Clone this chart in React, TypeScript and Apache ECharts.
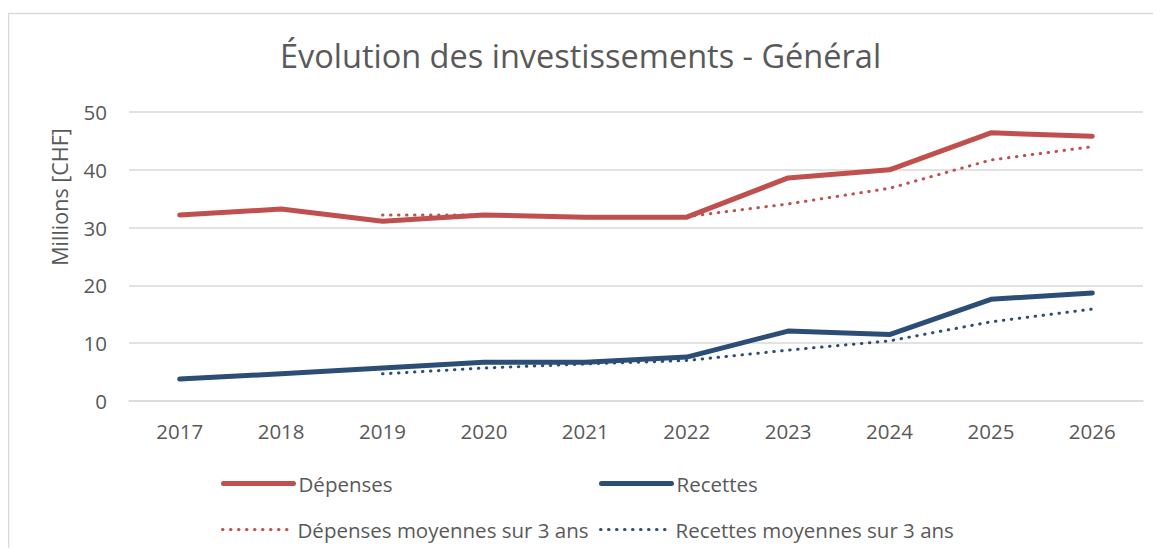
import React, { useEffect, useRef } from "react";
import * as echarts from "echarts";

const years = ["2017", "2018", "2019", "2020", "2021", "2022", "2023", "2024", "2025", "2026"];
const depenses = [32.2, 33.2, 31.1, 32.2, 31.8, 31.8, 38.6, 40.0, 46.4, 45.8];
const recettes = [3.8, 4.7, 5.7, 6.7, 6.7, 7.6, 12.1, 11.5, 17.6, 18.7];
const depensesMoy = [null, null, 32.2, 32.2, 31.7, 31.9, 34.1, 36.8, 41.7, 44.0];
const recettesMoy = [null, null, 4.7, 5.7, 6.4, 7.0, 8.8, 10.4, 13.7, 15.9];

const RED = "#C0504D";
const BLUE = "#2C4D75";
const TXT = "#595959";
const FONT = "'Open Sans', sans-serif";

export default function App() {
  const ref = useRef<HTMLDivElement>(null);
  useEffect(() => {
    if (!ref.current) return;
    const chart = echarts.init(ref.current, undefined, { renderer: "svg" });
    const dottedType = [0.5, 7.5];
    const legendBase = {
      orient: "horizontal",
      itemWidth: 70,
      itemHeight: 12,
      itemGap: 0,
      padding: 0,
      selectedMode: false,
      itemStyle: { opacity: 0 },
      textStyle: { color: TXT, fontSize: 20.5, fontFamily: FONT, padding: [0, 0, 0, 0] },
    };
    const solidLegend = { ...legendBase, lineStyle: { width: 5, cap: "round" } };
    const dotLegend = { ...legendBase, lineStyle: { width: 3, type: dottedType, cap: "round" } };
    const dotted = { width: 3, type: dottedType, cap: "round" };
    chart.setOption({
      animation: false,
      backgroundColor: "#ffffff",
      title: {
        text: "Évolution des investissements - Général",
        left: "center",
        top: 39,
        padding: 0,
        textStyle: { color: TXT, fontSize: 32.5, fontWeight: "normal", fontFamily: FONT },
      },
      graphic: [
        {
          type: "rect",
          shape: { x: 8.5, y: 13.5, width: 1200, height: 600 },
          style: { fill: "none", stroke: "#D9D9D9", lineWidth: 1.5 },
          silent: true,
        },
        {
          type: "text",
          x: 59,
          y: 197,
          rotation: Math.PI / 2,
          style: {
            text: "Millions [CHF]",
            fill: TXT,
            fontSize: 21.5,
            fontFamily: FONT,
            align: "center",
            verticalAlign: "middle",
          },
        },
      ],
      legend: [
        { ...solidLegend, data: ["Dépenses"], left: 221, top: 473 },
        { ...solidLegend, data: ["Recettes"], left: 599, top: 473 },
        { ...dotLegend, data: ["Dépenses moyennes sur 3 ans"], left: 221, top: 519 },
        { ...dotLegend, data: ["Recettes moyennes sur 3 ans"], left: 599, top: 519 },
      ],
      grid: { left: 129, right: 18, top: 112, bottom: 155 },
      xAxis: {
        type: "category",
        data: years,
        boundaryGap: true,
        axisLine: { show: true, lineStyle: { color: "#D9D9D9", width: 1.5 } },
        axisTick: { show: false },
        axisLabel: { color: TXT, fontSize: 20.5, fontFamily: FONT, margin: 19 },
      },
      yAxis: {
        type: "value",
        min: 0,
        max: 50,
        interval: 10,
        axisLine: { show: false },
        axisTick: { show: false },
        axisLabel: { color: TXT, fontSize: 20.5, fontFamily: FONT, margin: 22 },
        splitLine: { lineStyle: { color: "#D9D9D9", width: 1.5 } },
      },
      series: [
        {
          name: "Dépenses",
          type: "line",
          data: depenses,
          symbol: "none",
          lineStyle: { color: RED, width: 5, cap: "round", join: "round" },
          itemStyle: { color: RED },
          z: 3,
        },
        {
          name: "Recettes",
          type: "line",
          data: recettes,
          symbol: "none",
          lineStyle: { color: BLUE, width: 5, cap: "round", join: "round" },
          itemStyle: { color: BLUE },
          z: 3,
        },
        {
          name: "Dépenses moyennes sur 3 ans",
          type: "line",
          data: depensesMoy,
          symbol: "none",
          lineStyle: { color: RED, ...dotted },
          itemStyle: { color: RED },
          z: 2,
        },
        {
          name: "Recettes moyennes sur 3 ans",
          type: "line",
          data: recettesMoy,
          symbol: "none",
          lineStyle: { color: BLUE, ...dotted },
          itemStyle: { color: BLUE },
          z: 2,
        },
      ],
    });
    return () => chart.dispose();
  }, []);
  return <div ref={ref} style={{ width: 1161, height: 556, margin: -8 }} />;
}
